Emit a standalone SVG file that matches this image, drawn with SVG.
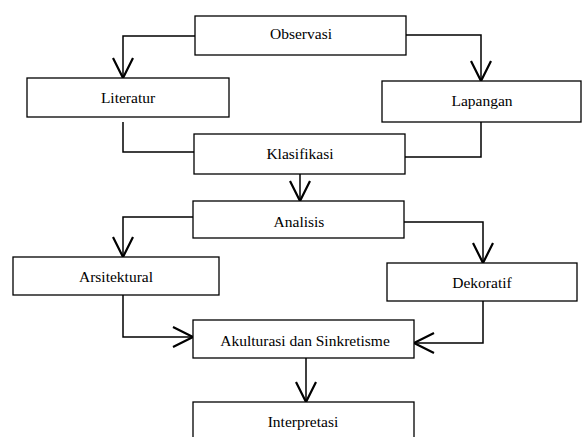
<svg xmlns="http://www.w3.org/2000/svg" width="583" height="437" viewBox="0 0 583 437">
<defs>
<style>
.box{fill:#fff;stroke:#000;stroke-width:1.3}
.lbl{font-size:15.5px;fill:#000;text-anchor:middle}
.con{fill:none;stroke:#000;stroke-width:1.5}
.arr{marker-end:url(#ah)}
</style>
<marker id="ah" markerUnits="userSpaceOnUse" markerWidth="26" markerHeight="26" viewBox="-23 -13 26 26" refX="0" refY="0" orient="auto" overflow="visible">
<path d="M-20,-10 L0,0 L-20,10" fill="none" stroke="#000" stroke-width="2.2"/>
</marker>
</defs>
<rect width="583" height="437" fill="#fff"/>
<g id="connectors">
<path class="con arr" d="M195,36 H123 V78"/>
<path class="con arr" d="M406,35 H481 V81"/>
<path class="con" d="M123,122 V152 H194"/>
<path class="con" d="M481,122 V157 H405"/>
<path class="con arr" d="M300,174 V201"/>
<path class="con arr" d="M193,217 H123 V257"/>
<path class="con arr" d="M404,222 H483 V263"/>
<path class="con arr" d="M123,295 V337 H193"/>
<path class="con arr" d="M483,301 V343 H414"/>
<path class="con arr" d="M306,358 V402"/>
</g>
<g font-family="'Liberation Serif', 'Times New Roman', serif">
<g id="observasi"><rect class="box" x="195" y="16" width="211" height="39"/><text class="lbl" x="301" y="39">Observasi</text></g>
<g id="literatur"><rect class="box" x="27" y="78" width="202" height="39"/><text class="lbl" x="128" y="103">Literatur</text></g>
<g id="lapangan"><rect class="box" x="382" y="81" width="199" height="41"/><text class="lbl" x="482" y="106">Lapangan</text></g>
<g id="klasifikasi"><rect class="box" x="194" y="134" width="211" height="40"/><text class="lbl" x="300" y="159">Klasifikasi</text></g>
<g id="analisis"><rect class="box" x="193" y="201" width="211" height="37"/><text class="lbl" x="299" y="227">Analisis</text></g>
<g id="arsitektural"><rect class="box" x="13" y="257" width="206" height="38"/><text class="lbl" x="116" y="282">Arsitektural</text></g>
<g id="dekoratif"><rect class="box" x="387" y="263" width="190" height="38"/><text class="lbl" x="482" y="288">Dekoratif</text></g>
<g id="akulturasi"><rect class="box" x="193" y="320" width="221" height="38"/><text class="lbl" x="305" y="346">Akulturasi dan Sinkretisme</text></g>
<g id="interpretasi"><rect class="box" x="193" y="402" width="221" height="40"/><text class="lbl" x="303" y="427">Interpretasi</text></g>
</g>
</svg>
